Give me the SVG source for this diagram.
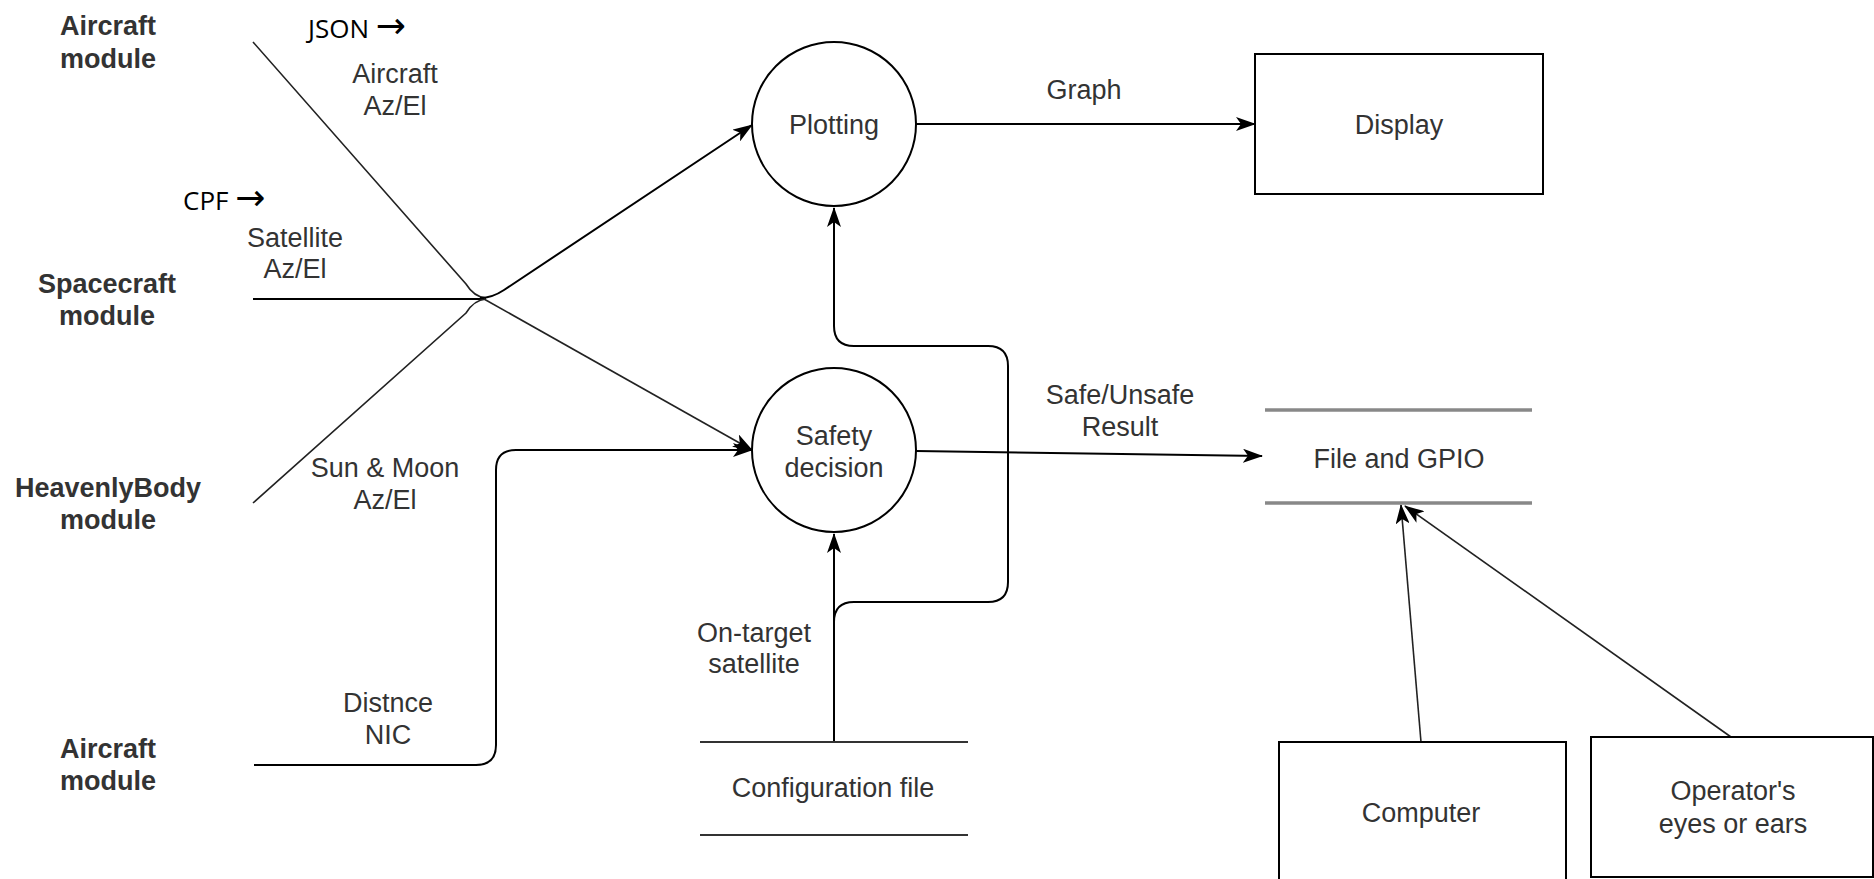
<svg xmlns="http://www.w3.org/2000/svg" width="1874" height="879" viewBox="0 0 1874 879">
<style>
.lbl{font-family:"Liberation Sans",Arial,sans-serif;font-size:27px;fill:#333;text-anchor:middle}
.mod{font-family:"Liberation Sans",Arial,sans-serif;font-size:27px;font-weight:bold;fill:#333;text-anchor:middle}
.note{font-family:"Open Sans","Liberation Sans",sans-serif;font-size:26px;fill:#000}
.ar{font-family:"DejaVu Sans",sans-serif;font-size:36px}
.ln{fill:none;stroke:#000;stroke-width:2}
.thin{fill:none;stroke:#222;stroke-width:1.6}
.shape{fill:#fff;stroke:#000;stroke-width:2}
.store{stroke:#333;stroke-width:2}
.store2{stroke:#888;stroke-width:3.5}
</style>
<defs>
<marker id="arr" markerUnits="userSpaceOnUse" markerWidth="20" markerHeight="14" refX="19" refY="7" orient="auto" viewBox="0 0 20 14">
<path d="M0,0 L20,7 L0,14 L5,7 Z" fill="#000"/>
</marker>
</defs>
<rect width="1874" height="879" fill="#fff"/>

<g id="ext-aircraft-top"><text class="mod" x="108" y="35">Aircraft</text><text class="mod" x="108" y="68">module</text></g>
<g id="ext-spacecraft"><text class="mod" x="107" y="293">Spacecraft</text><text class="mod" x="107" y="325">module</text></g>
<g id="ext-heavenly"><text class="mod" x="108" y="497">HeavenlyBody</text><text class="mod" x="108" y="529">module</text></g>
<g id="ext-aircraft-bottom"><text class="mod" x="108" y="758">Aircraft</text><text class="mod" x="108" y="790">module</text></g>

<g id="note-json"><text class="note" x="308" y="38">JSON <tspan class="ar">→</tspan></text></g>
<g id="note-cpf"><text class="note" x="183" y="210">CPF <tspan class="ar">→</tspan></text></g>

<g id="connectors">
<path class="thin" d="M253,42 L466,284 Q474,297 486,298"/>
<path class="ln" d="M253,299 L486,299"/>
<path class="thin" d="M253,503 L466,313 Q474,300 486,299"/>
<path class="ln" d="M480,298 Q492,298 504,290 L752,125" marker-end="url(#arr)"/>
<path class="thin" d="M484,299 L752,450" marker-end="url(#arr)"/>
<path class="ln" d="M254,765 L476,765 Q496,765 496,745 L496,470 Q496,450 516,450 L752,450" marker-end="url(#arr)"/>
<path class="ln" d="M916,124 L1255,124" marker-end="url(#arr)"/>
<path class="ln" d="M916,451 L1262,456" marker-end="url(#arr)"/>
<path class="ln" d="M834,742 L834,534" marker-end="url(#arr)"/>
<path class="ln" d="M834,622 Q834,602 854,602 L988,602 Q1008,602 1008,582 L1008,366 Q1008,346 988,346 L854,346 Q834,346 834,326 L834,208" marker-end="url(#arr)"/>
<path class="thin" d="M1421,742 L1401,505" marker-end="url(#arr)"/>
<path class="thin" d="M1731,737 L1405,506" marker-end="url(#arr)"/>
</g>

<g id="lbl-aircraft-azel"><text class="lbl" x="395" y="83">Aircraft</text><text class="lbl" x="395" y="115">Az/El</text></g>
<g id="lbl-satellite-azel"><text class="lbl" x="295" y="247">Satellite</text><text class="lbl" x="295" y="278">Az/El</text></g>
<g id="lbl-sunmoon"><text class="lbl" x="385" y="477">Sun &amp; Moon</text><text class="lbl" x="385" y="509">Az/El</text></g>
<g id="lbl-distnce"><text class="lbl" x="388" y="712">Distnce</text><text class="lbl" x="388" y="744">NIC</text></g>
<g id="lbl-graph"><text class="lbl" x="1084" y="99">Graph</text></g>
<g id="lbl-safe"><text class="lbl" x="1120" y="404">Safe/Unsafe</text><text class="lbl" x="1120" y="436">Result</text></g>
<g id="lbl-ontarget"><text class="lbl" x="754" y="642">On-target</text><text class="lbl" x="754" y="673">satellite</text></g>

<g id="plotting"><circle class="shape" cx="834" cy="124" r="82"/><text class="lbl" x="834" y="134">Plotting</text></g>
<g id="safety"><circle class="shape" cx="834" cy="450" r="82"/><text class="lbl" x="834" y="445">Safety</text><text class="lbl" x="834" y="477">decision</text></g>
<g id="display"><rect class="shape" x="1255" y="54" width="288" height="140"/><text class="lbl" x="1399" y="134">Display</text></g>
<g id="filegpio"><line class="store2" x1="1265" y1="410" x2="1532" y2="410"/><line class="store2" x1="1265" y1="503" x2="1532" y2="503"/><text class="lbl" x="1399" y="468">File and GPIO</text></g>
<g id="config"><line class="store" x1="700" y1="742" x2="968" y2="742"/><line class="store" x1="700" y1="835" x2="968" y2="835"/><text class="lbl" x="833" y="797">Configuration file</text></g>
<g id="computer"><rect class="shape" x="1279" y="742" width="287" height="150"/><text class="lbl" x="1421" y="822">Computer</text></g>
<g id="operator"><rect class="shape" x="1591" y="737" width="282" height="140"/><text class="lbl" x="1733" y="800">Operator's</text><text class="lbl" x="1733" y="833">eyes or ears</text></g>
</svg>
